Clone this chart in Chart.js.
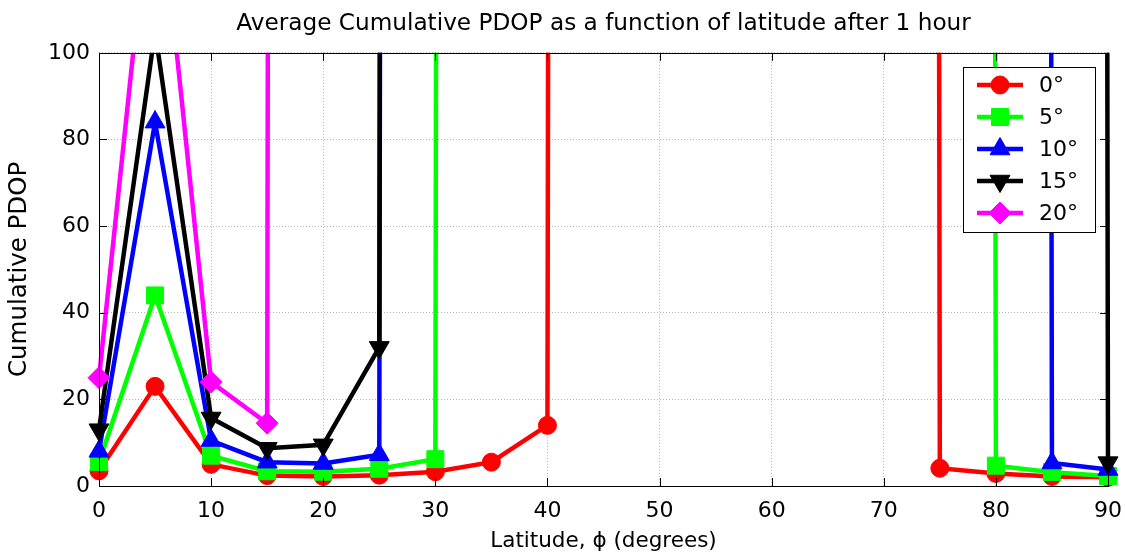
<!DOCTYPE html>
<html>
<head>
<meta charset="utf-8">
<script src="https://cdn.jsdelivr.net/npm/chart.js@4.4.1/dist/chart.umd.min.js"></script>
<style>
  body { margin: 0; background: #fff; }
</style>
</head>
<body>
<canvas id="pdopChart" width="1125" height="559"></canvas>
<script>
// latitude (degrees) on the x axis
const latitudes = [0, 5, 10, 15, 20, 25, 30, 35, 40, 45, 50, 55, 60, 65, 70, 75, 80, 85, 90];

// cumulative PDOP per elevation mask; 10000 = far off the top of the plot
const pdop0 = [3.5, 23, 5, 2.4, 2.2, 2.5, 3.3, 5.5, 14, 10000, 10000, 10000, 10000, 10000, 10000, 4.1, 2.9, 2.2, 2];
const pdop5 = [5.5, 44, 7, 3.4, 3.3, 4, 6.2, 10000, 10000, 10000, 10000, 10000, 10000, 10000, 10000, 10000, 4.7, 3.2, 2.3];
const pdop10 = [8, 84, 10.5, 5.5, 5.2, 7.2, 10000, 10000, 10000, 10000, 10000, 10000, 10000, 10000, 10000, 10000, 10000, 5.3, 3.8];
const pdop15 = [13, 105, 15.7, 8.7, 9.5, 32, 10000, 10000, 10000, 10000, 10000, 10000, 10000, 10000, 10000, 10000, 10000, 10000, 5.4];
const pdop20 = [25, 148, 24, 14.5, 10000, 10000, 10000, 10000, 10000, 10000, 10000, 10000, 10000, 10000, 10000, 10000, 10000, 10000, 10000];

const seriesNames = ["0°", "5°", "10°", "15°", "20°"];
const xTicks = [0, 10, 20, 30, 40, 50, 60, 70, 80, 90];
const yTicks = [0, 20, 40, 60, 80, 100];

const FONT = "'DejaVu Sans', Verdana, sans-serif";

const styles = [
  { color: "#ff0000", pointStyle: "circle", radius: 9, rotation: 0 },
  { color: "#00ff00", pointStyle: "rect", radius: 12, rotation: 0 },
  { color: "#0000ff", pointStyle: "triangle", radius: 11.5, rotation: 0 },
  { color: "#000000", pointStyle: "triangle", radius: 11.5, rotation: 180 },
  { color: "#ff00ff", pointStyle: "rectRot", radius: 11, rotation: 0 },
];

const allSeries = [pdop0, pdop5, pdop10, pdop15, pdop20];

const datasets = allSeries.map((vals, i) => ({
  label: seriesNames[i],
  data: vals.map((v, j) => ({ x: latitudes[j], y: v })),
  borderColor: styles[i].color,
  backgroundColor: styles[i].color,
  borderWidth: 4.5,
  pointStyle: styles[i].pointStyle,
  pointRotation: styles[i].rotation,
  pointRadius: styles[i].radius,
  pointBorderWidth: 1,
  pointBorderColor: styles[i].color,
  pointBackgroundColor: styles[i].color,
  tension: 0,
  order: allSeries.length - i, // later series drawn on top, like matlab
  clip: { left: 20, right: 20, bottom: 20, top: 0 },
}));

// box round the axes, inward ticks, legend inside the plot
const matlabAxes = {
  id: "matlabAxes",
  afterDraw(chart) {
    const ctx = chart.ctx;
    const { left, right, top, bottom } = chart.chartArea;
    const xs = chart.scales.x;
    const ys = chart.scales.y;
    const tickLen = 8;

    ctx.save();
    ctx.strokeStyle = "#000";
    ctx.lineWidth = 1;
    ctx.beginPath();
    xTicks.forEach((t) => {
      const px = Math.round(xs.getPixelForValue(t)) + 0.5;
      ctx.moveTo(px, bottom);
      ctx.lineTo(px, bottom - tickLen);
      ctx.moveTo(px, top);
      ctx.lineTo(px, top + tickLen);
    });
    yTicks.forEach((t) => {
      const py = Math.round(ys.getPixelForValue(t)) + 0.5;
      ctx.moveTo(left, py);
      ctx.lineTo(left + tickLen, py);
      ctx.moveTo(right, py);
      ctx.lineTo(right - tickLen, py);
    });
    ctx.stroke();
    ctx.strokeRect(Math.round(left) + 0.5, Math.round(top) + 0.5, Math.round(right - left), Math.round(bottom - top));

    // legend
    const lx = 963, ly = 67, lw = 132, lh = 165;
    ctx.fillStyle = "#fff";
    ctx.fillRect(lx, ly, lw, lh);
    ctx.strokeRect(lx + 0.5, ly + 0.5, lw, lh);
    ctx.font = "22px " + FONT;
    ctx.textBaseline = "middle";
    ctx.textAlign = "left";
    styles.forEach((s, i) => {
      const cy = ly + 18 + i * 32;
      ctx.strokeStyle = s.color;
      ctx.lineWidth = 4.5;
      ctx.beginPath();
      ctx.moveTo(lx + 14, cy);
      ctx.lineTo(lx + 60, cy);
      ctx.stroke();
      ctx.fillStyle = s.color;
      ctx.lineWidth = 1;
      Chart.helpers.drawPoint(ctx, { pointStyle: s.pointStyle, rotation: s.rotation, radius: s.radius, borderWidth: 1 }, lx + 37, cy);
      ctx.fillStyle = "#000";
      ctx.fillText(seriesNames[i], lx + 76, cy + 1);
    });
    ctx.restore();
  },
};

new Chart(document.getElementById("pdopChart"), {
  type: "line",
  data: { datasets: datasets },
  options: {
    responsive: false,
    animation: false,
    events: [],
    layout: { padding: { left: 0, right: 17, top: 0, bottom: 0 } },
    plugins: {
      legend: { display: false },
      tooltip: { enabled: false },
      title: {
        display: true,
        text: "Average Cumulative PDOP as a function of latitude after 1 hour",
        color: "#000",
        font: { family: FONT, size: 23.2, weight: "normal" },
        padding: { top: 10, bottom: 15 },
        fullSize: false,
      },
    },
    scales: {
      x: {
        type: "linear",
        min: 0,
        max: 90,
        afterFit: (scale) => {
          scale.height = 73;
          scale.paddingLeft = 0;
          scale.paddingRight = 0;
        },
        afterBuildTicks: (scale) => { scale.ticks = xTicks.map((v) => ({ value: v })); },
        ticks: { color: "#000", font: { family: FONT, size: 22 }, padding: 12, maxRotation: 0 },
        grid: { color: "#b4b4b4", lineWidth: 1, drawTicks: false },
        border: { display: false, dash: [1, 2] },
        title: {
          display: true,
          text: "Latitude, ϕ (degrees)",
          color: "#000",
          font: { family: FONT, size: 21.5 },
          padding: { top: 0, bottom: 5 },
        },
      },
      y: {
        min: 0,
        max: 100,
        afterFit: (scale) => {
          scale.width = 99;
          scale.paddingTop = 0;
          scale.paddingBottom = 0;
        },
        afterBuildTicks: (scale) => { scale.ticks = yTicks.map((v) => ({ value: v })); },
        ticks: { color: "#000", font: { family: FONT, size: 22 }, padding: 9 },
        grid: { color: "#b4b4b4", lineWidth: 1, drawTicks: false },
        border: { display: false, dash: [1, 2] },
        title: {
          display: true,
          text: "Cumulative PDOP",
          color: "#000",
          font: { family: FONT, size: 24.5 },
          padding: { top: 5, bottom: 0 },
        },
      },
    },
  },
  plugins: [matlabAxes],
});
</script>
</body>
</html>
